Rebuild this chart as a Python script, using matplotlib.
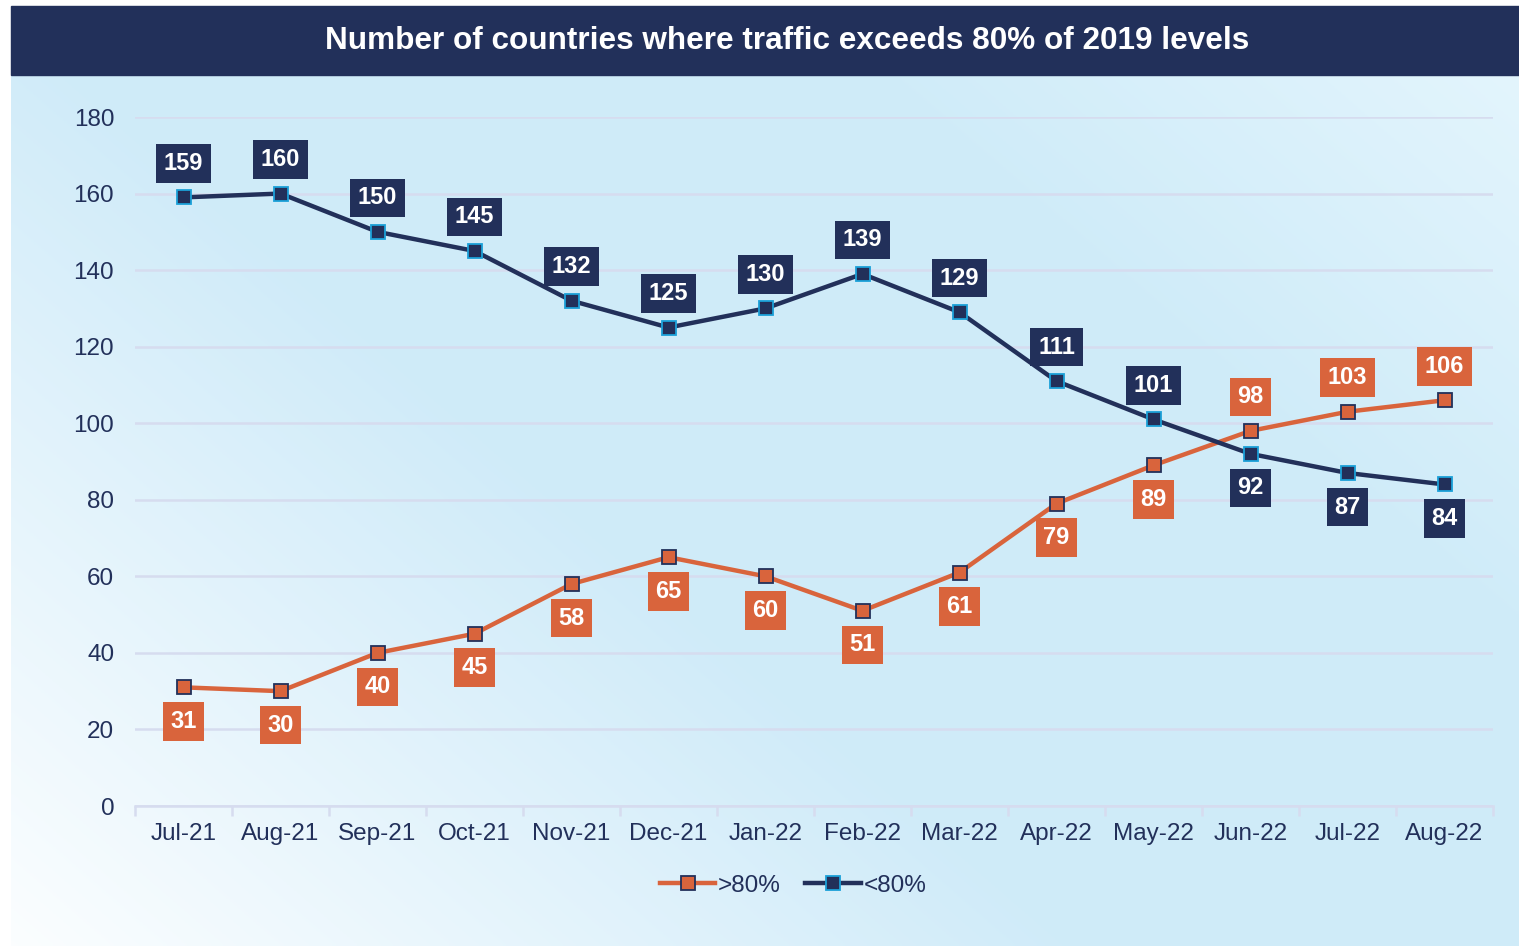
import numpy as np
import matplotlib.pyplot as plt
from matplotlib.lines import Line2D
from matplotlib.patches import Rectangle

NAVY = "#22305a"
ORANGE = "#d9643c"
CYAN = "#1ba0d8"
GRID = "#d6dcef"

months = ["Jul-21", "Aug-21", "Sep-21", "Oct-21", "Nov-21", "Dec-21", "Jan-22",
          "Feb-22", "Mar-22", "Apr-22", "May-22", "Jun-22", "Jul-22", "Aug-22"]
above80 = [31, 30, 40, 45, 58, 65, 60, 51, 61, 79, 89, 98, 103, 106]
below80 = [159, 160, 150, 145, 132, 125, 130, 139, 129, 111, 101, 92, 87, 84]

plt.rcParams["font.family"] = ["Liberation Sans", "DejaVu Sans"]

fig = plt.figure(figsize=(15.19, 9.46), dpi=100)
fig.patch.set_facecolor("white")

# gradient background panel: white at bottom-left, blue through the middle, lighter top-right
bg = fig.add_axes([11 / 1519, 0, 1 - 11 / 1519, 1 - 75 / 946])
bg.set_axis_off()
gx, gy = np.meshgrid(np.linspace(0, 1, 400), np.linspace(0, 1, 300))
t = (gx * 1.5 + gy) / 2.5
stops = [0.0, 0.42, 0.75, 1.0]
cols = np.array([[0.985, 0.995, 1.0],
                 [0.815, 0.922, 0.976],
                 [0.815, 0.925, 0.976],
                 [0.89, 0.96, 0.99]])
img = np.stack([np.interp(t, stops, cols[:, k]) for k in range(3)], axis=-1)
bg.imshow(img, origin="lower", aspect="auto", extent=[0, 1, 0, 1])

# title band
fig.patches.append(Rectangle((11 / 1519, 1 - 75 / 946), 1 - 11 / 1519, 69 / 946,
                             transform=fig.transFigure, color=NAVY, zorder=5))
fig.text(0.5185, 1 - 41 / 946, "Number of countries where traffic exceeds 80% of 2019 levels",
         ha="center", va="center", color="white", fontsize=22.7, fontweight="bold", zorder=6)

ax = fig.add_axes([135 / 1519, 1 - 806 / 946, 1358 / 1519, 689 / 946])
ax.patch.set_alpha(0)
x = np.arange(len(months))
ax.set_xlim(-0.5, len(months) - 0.5)
ax.set_ylim(0, 180)
ax.set_yticks(range(0, 181, 20))
ax.grid(axis="y", color=GRID, lw=1.8)
ax.set_axisbelow(True)
for s in ["top", "right", "left"]:
    ax.spines[s].set_visible(False)
ax.spines["bottom"].set_color(GRID)
ax.spines["bottom"].set_linewidth(1.8)
ax.set_xticks(x)
ax.set_xticklabels(months)
ax.set_xticks(np.arange(-0.5, len(months), 1), minor=True)
ax.tick_params(axis="x", which="major", length=0, pad=12, labelsize=17.5, labelcolor=NAVY)
ax.tick_params(axis="x", which="minor", length=7, width=1.8, color=GRID)
ax.tick_params(axis="y", length=0, pad=15, labelsize=17.5, labelcolor=NAVY)

ax.plot(x, above80, color=ORANGE, lw=3.2, marker="s", ms=9.5, mfc=ORANGE,
        mec=NAVY, mew=1.3, zorder=3, clip_on=False)
ax.plot(x, below80, color=NAVY, lw=3.2, marker="s", ms=9.5, mfc=NAVY,
        mec=CYAN, mew=1.3, zorder=4, clip_on=False)

box = dict(boxstyle="square,pad=0.33", lw=0)
for i in x:
    up_navy = i < 11
    ax.annotate(str(below80[i]), (i, below80[i]), xytext=(0, 24.5 if up_navy else -24.5),
                textcoords="offset points", ha="center", va="center", color="white",
                fontsize=17, fontweight="bold", bbox=dict(box, fc=NAVY), zorder=6)
    ax.annotate(str(above80[i]), (i, above80[i]), xytext=(0, 24.5 if not up_navy else -24.5),
                textcoords="offset points", ha="center", va="center", color="white",
                fontsize=17, fontweight="bold", bbox=dict(box, fc=ORANGE), zorder=6)

handles = [
    Line2D([], [], color=ORANGE, lw=3.2, marker="s", ms=9.5, mfc=ORANGE, mec=NAVY, mew=1.3),
    Line2D([], [], color=NAVY, lw=3.2, marker="s", ms=9.5, mfc=NAVY, mec=CYAN, mew=1.3),
]
leg = fig.legend(handles, [">80%", "<80%"], loc="center", bbox_to_anchor=(0.522, 1 - 886 / 946),
                 ncol=2, frameon=False, fontsize=17.5, handlelength=2.3, handletextpad=0.1,
                 columnspacing=1.0, labelcolor=NAVY)

fig.savefig("out.png", dpi=100)
